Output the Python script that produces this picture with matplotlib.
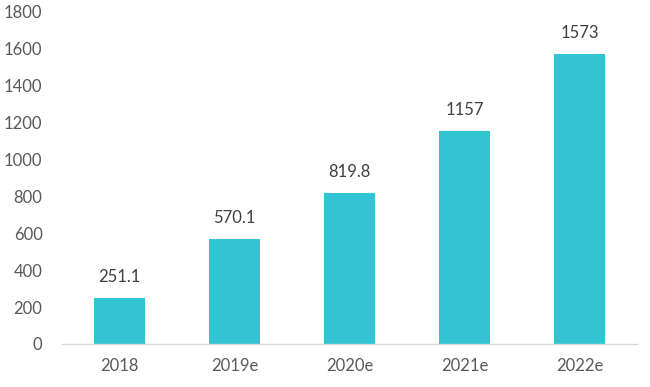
import matplotlib
matplotlib.use('Agg')
import matplotlib.pyplot as plt

# Data
years = ['2018', '2019e', '2020e', '2021e', '2022e']
values = [251.1, 570.1, 819.8, 1157, 1573]
labels = ['251.1', '570.1', '819.8', '1157', '1573']

plt.rcParams['font.family'] = ['Lato', 'DejaVu Sans']

fig = plt.figure(figsize=(6.5, 3.87), dpi=100)
ax = fig.add_axes([62 / 650, 43 / 387, 575 / 650, 332 / 387])

bars = ax.bar(range(len(years)), values, width=0.44, color='#33C4D3')
for b, lab in zip(bars, labels):
    ax.annotate(lab, (b.get_x() + b.get_width() / 2, b.get_height()),
                xytext=(0, 9), textcoords='offset points',
                ha='center', va='bottom', fontsize=12, color='#404040')

ax.set_xlim(-0.5, len(years) - 0.5)
ax.set_ylim(0, 1800)
ax.set_yticks(range(0, 1801, 200))
ax.set_xticks(range(len(years)))
ax.set_xticklabels(years)

for s in ['top', 'right', 'left']:
    ax.spines[s].set_visible(False)
ax.spines['bottom'].set_color('#D9D9D9')
ax.spines['bottom'].set_linewidth(1)
ax.tick_params(axis='both', length=0, labelsize=12, colors='#595959')
ax.tick_params(axis='y', pad=14)
ax.tick_params(axis='x', pad=10)

fig.savefig('out.png', dpi=100)
